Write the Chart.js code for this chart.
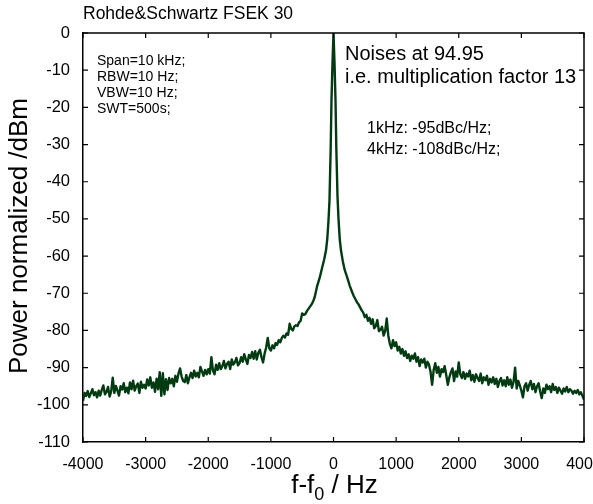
<!DOCTYPE html>
<html>
<head>
<meta charset="utf-8">
<script src="https://cdn.jsdelivr.net/npm/chart.js@4/dist/chart.umd.min.js"></script>
<style>
  html, body { margin: 0; padding: 0; background: #ffffff; }
  #wrap { width: 593px; height: 504px; }
</style>
</head>
<body>
<div id="wrap"><canvas id="c" width="593" height="504"></canvas></div>
<script>
// ---- data ----
const chartTitle = "Rohde&Schwartz FSEK 30";
const yAxisTitle = "Power normalized /dBm";
const xTickValues = [-4000, -3000, -2000, -1000, 0, 1000, 2000, 3000, 4000];
const yTickValues = [0, -10, -20, -30, -40, -50, -60, -70, -80, -90, -100, -110];
const infoLeft = ["Span=10 kHz;", "RBW=10 Hz;", "VBW=10 Hz;", "SWT=500s;"];
const infoRightTop = ["Noises at 94.95", "i.e. multiplication factor 13"];
const infoRightBottom = ["1kHz: -95dBc/Hz;", "4kHz: -108dBc/Hz;"];

// frequency offsets (Hz), left wing
const freqLeft = [
  -4000,-3975,-3950,-3925,-3900,-3875,-3850,-3825,-3800,-3775,
  -3750,-3725,-3700,-3675,-3650,-3625,-3600,-3575,-3550,-3525,
  -3500,-3475,-3450,-3425,-3400,-3375,-3350,-3325,-3300,-3275,
  -3250,-3225,-3200,-3175,-3150,-3125,-3100,-3075,-3050,-3025,
  -3000,-2975,-2950,-2925,-2900,-2875,-2850,-2825,-2800,-2775,
  -2750,-2725,-2700,-2675,-2650,-2625,-2600,-2575,-2550,-2525,
  -2500,-2475,-2450,-2425,-2400,-2375,-2350,-2325,-2300,-2275,
  -2250,-2225,-2200,-2175,-2150,-2125,-2100,-2075,-2050,-2025,
  -2000,-1975,-1950,-1925,-1900,-1875,-1850,-1825,-1800,-1775,
  -1750,-1725,-1700,-1675,-1650,-1625,-1600,-1575,-1550,-1525,
  -1500,-1475,-1450,-1425,-1400,-1375,-1350,-1325,-1300,-1275,
  -1250,-1225,-1200,-1175,-1150,-1125,-1100,-1075,-1050,-1025,
  -1000,-975,-950,-925,-900,-875,-850,-825,-800,-775,
  -750,-725,-700,-675,-650,-625,-600,-575,-550,-525,
  -500,-475,-450,-425,-400,-375,-350,-325];
const powerLeft = [
  -99.0,-96.8,-97.6,-96.3,-97.9,-96.9,-95.8,-97.4,-96.6,-98.0,
  -96.2,-97.5,-96.0,-94.8,-97.2,-96.5,-95.2,-97.8,-96.4,-92.7,
  -96.8,-94.9,-96.2,-97.5,-95.0,-95.9,-94.2,-96.6,-95.4,-96.9,
  -94.0,-95.8,-93.5,-96.2,-95.0,-94.3,-96.8,-93.8,-95.4,-94.6,
  -95.6,-93.2,-94.8,-92.6,-95.4,-94.0,-96.5,-93.0,-95.8,-91.2,
  -97.6,-91.5,-97.2,-93.1,-96.0,-92.8,-94.2,-93.0,-95.0,-92.2,
  -93.8,-91.6,-90.2,-92.4,-93.6,-93.9,-92.0,-94.2,-92.6,-91.4,
  -92.8,-90.8,-92.4,-91.4,-92.6,-89.8,-91.0,-92.2,-90.6,-91.8,
  -90.4,-91.6,-87.2,-90.8,-91.8,-89.2,-90.6,-88.8,-90.4,-89.6,
  -88.2,-90.2,-89.0,-88.4,-90.4,-87.8,-89.2,-88.6,-87.4,-89.4,
  -88.8,-87.2,-88.4,-86.4,-87.8,-89.0,-86.6,-87.4,-85.8,-87.6,
  -85.6,-87.8,-86.0,-85.2,-87.2,-88.6,-86.2,-84.6,-82.0,-84.8,
  -85.4,-84.0,-84.8,-83.4,-83.9,-82.6,-83.2,-82.0,-81.4,-81.9,
  -80.8,-81.2,-78.2,-79.6,-80.0,-78.9,-78.6,-78.8,-77.8,-77.4,
  -75.4,-75.8,-75.6,-74.8,-74.2,-73.6,-73.0,-72.2];

// central carrier peak
const freqCenter = [-300,-260,-220,-180,-150,-120,-100,-80,-64,-45,-32,-16,0,16,32,45,64,80,100,120,150,180,220,260,300];
const powerCenter = [-71.0,-68.0,-65.8,-63.0,-61.0,-58.5,-55.5,-50.5,-45.0,-31.0,-18.0,-8.0,0,-8.0,-18.0,-31.0,-44.0,-50.0,-55.5,-58.5,-61.5,-63.8,-65.8,-68.0,-69.8];

// right wing
const freqRight = [
  325,350,375,400,425,450,475,500,525,550,
  575,600,625,650,675,700,725,750,775,800,
  825,850,875,900,925,950,975,1000,1025,1050,
  1075,1100,1125,1150,1175,1200,1225,1250,1275,1300,
  1325,1350,1375,1400,1425,1450,1475,1500,1525,1550,
  1575,1600,1625,1650,1675,1700,1725,1750,1775,1800,
  1825,1850,1875,1900,1925,1950,1975,2000,2025,2050,
  2075,2100,2125,2150,2175,2200,2225,2250,2275,2300,
  2325,2350,2375,2400,2425,2450,2475,2500,2525,2550,
  2575,2600,2625,2650,2675,2700,2725,2750,2775,2800,
  2825,2850,2875,2900,2925,2950,2975,3000,3025,3050,
  3075,3100,3125,3150,3175,3200,3225,3250,3275,3300,
  3325,3350,3375,3400,3425,3450,3475,3500,3525,3550,
  3575,3600,3625,3650,3675,3700,3725,3750,3775,3800,
  3825,3850,3875,3900,3925,3950,3975,4000];
const powerRight = [
  -70.8,-71.6,-72.4,-73.0,-73.8,-74.6,-75.2,-76.4,-75.8,-77.4,
  -76.6,-78.2,-77.0,-79.4,-78.8,-77.2,-80.2,-79.8,-79.0,-81.4,
  -80.2,-76.8,-81.4,-83.6,-84.8,-82.6,-84.2,-83.2,-85.4,-84.4,
  -86.2,-85.0,-86.8,-85.6,-87.4,-86.4,-88.2,-86.8,-87.6,-86.2,
  -88.4,-87.2,-89.6,-87.8,-88.6,-87.6,-90.0,-88.4,-89.2,-91.2,
  -94.6,-90.6,-88.8,-91.4,-89.8,-92.4,-90.4,-91.2,-89.6,-92.0,
  -94.6,-92.6,-91.2,-90.2,-93.6,-91.0,-92.4,-88.6,-91.8,-92.8,
  -91.2,-93.0,-91.6,-92.4,-90.8,-93.4,-92.0,-93.8,-91.8,-92.8,
  -93.6,-91.6,-94.2,-92.6,-93.4,-92.2,-94.6,-93.0,-94.0,-92.6,
  -94.4,-93.0,-95.2,-93.6,-92.8,-94.8,-93.4,-95.0,-92.6,-94.6,
  -93.2,-95.4,-93.8,-90.0,-95.6,-93.6,-94.8,-96.2,-98.0,-95.0,
  -94.2,-96.2,-94.6,-93.6,-95.8,-94.4,-96.6,-95.0,-94.2,-96.4,
  -98.2,-95.6,-96.8,-94.6,-95.8,-95.0,-96.6,-94.4,-96.0,-95.2,
  -96.8,-95.4,-96.2,-97.0,-95.6,-96.4,-95.2,-96.6,-95.8,-96.2,
  -97.0,-96.2,-96.8,-96.0,-97.2,-96.6,-97.6,-98.6];

// ---- build points ----
const allFreq = freqLeft.concat(freqCenter, freqRight);
const allPower = powerLeft.concat(powerCenter, powerRight);
const points = allFreq.map((f, i) => ({ x: f, y: allPower[i] }));

const FONT = "'Liberation Sans', Arial, Helvetica, sans-serif";

const framePlugin = {
  id: 'frame',
  afterDraw(chart) {
    const ctx = chart.ctx;
    const { left, right, top, bottom } = chart.chartArea;
    const xs = chart.scales.x, ys = chart.scales.y;
    ctx.save();
    ctx.strokeStyle = '#000';
    ctx.lineWidth = 1.5;
    ctx.beginPath();
    ctx.moveTo(left, top); ctx.lineTo(right, top); ctx.lineTo(right, bottom);
    ctx.stroke();
    // inward ticks
    ctx.lineWidth = 1.2;
    const tl = 5;
    ctx.beginPath();
    xTickValues.forEach(v => {
      const px = xs.getPixelForValue(v);
      ctx.moveTo(px, bottom); ctx.lineTo(px, bottom - tl);
      ctx.moveTo(px, top); ctx.lineTo(px, top + tl);
    });
    yTickValues.forEach(v => {
      const py = ys.getPixelForValue(v);
      ctx.moveTo(left, py); ctx.lineTo(left + tl, py);
      ctx.moveTo(right, py); ctx.lineTo(right - tl, py);
    });
    ctx.stroke();

    ctx.fillStyle = '#000';
    ctx.textBaseline = 'middle';
    // title
    ctx.textAlign = 'left';
    ctx.font = '17.5px ' + FONT;
    ctx.fillText(chartTitle, 83, 14);
    // y title
    ctx.save();
    ctx.translate(20, 236);
    ctx.rotate(-Math.PI / 2);
    ctx.textAlign = 'center';
    ctx.font = '26px ' + FONT;
    ctx.fillText(yAxisTitle, 0, 0);
    ctx.restore();
    // x title with subscript
    ctx.font = '26px ' + FONT;
    const p1 = 'f-f', p3 = ' / Hz';
    const w1 = ctx.measureText(p1).width;
    const w3 = ctx.measureText(p3).width;
    ctx.font = '18px ' + FONT;
    const w2 = ctx.measureText('0').width;
    const total = w1 + w2 + w3;
    let sx = (left + right) / 2 + 1 - total / 2;
    const ty = 486;
    ctx.textAlign = 'left';
    ctx.font = '26px ' + FONT;
    ctx.fillText(p1, sx, ty);
    ctx.font = '18px ' + FONT;
    ctx.fillText('0', sx + w1, ty + 9);
    ctx.font = '26px ' + FONT;
    ctx.fillText(p3, sx + w1 + w2, ty);

    // info texts
    ctx.font = '14px ' + FONT;
    infoLeft.forEach((t, i) => ctx.fillText(t, 97, 61 + i * 16));
    ctx.font = '20px ' + FONT;
    infoRightTop.forEach((t, i) => ctx.fillText(t, 345, 54 + i * 23));
    ctx.font = '16px ' + FONT;
    infoRightBottom.forEach((t, i) => ctx.fillText(t, 367, 129 + i * 21));
    ctx.restore();
  }
};

new Chart(document.getElementById('c'), {
  type: 'line',
  data: {
    datasets: [{
      data: points,
      borderColor: '#023b12',
      borderWidth: 2.4,
      borderJoinStyle: 'round',
      pointRadius: 0,
      tension: 0,
      fill: false
    }]
  },
  options: {
    responsive: false,
    animation: false,
    devicePixelRatio: 1,
    layout: { padding: { top: 33, right: 9, left: 0, bottom: 0 } },
    plugins: { legend: { display: false }, tooltip: { enabled: false } },
    scales: {
      x: {
        type: 'linear', min: -4000, max: 4000,
        afterBuildTicks: s => { s.ticks = xTickValues.map(v => ({ value: v })); },
        afterFit: s => { s.height = 62; s.paddingLeft = 0; s.paddingRight = 0; },
        grid: { display: false },
        border: { display: true, color: '#000', width: 1.5 },
        ticks: { color: '#000', font: { family: FONT, size: 16 }, padding: 5, maxRotation: 0, autoSkip: false,
                 callback: v => String(v) }
      },
      y: {
        min: -110, max: 0,
        afterBuildTicks: s => { s.ticks = yTickValues.map(v => ({ value: v })); },
        afterFit: s => { s.width = 83; s.paddingTop = 0; s.paddingBottom = 0; },
        grid: { display: false },
        border: { display: true, color: '#000', width: 1.5 },
        ticks: { color: '#000', font: { family: FONT, size: 16.5 }, padding: 5, autoSkip: false,
                 callback: v => String(v) }
      }
    }
  },
  plugins: [framePlugin]
});
</script>
</body>
</html>
